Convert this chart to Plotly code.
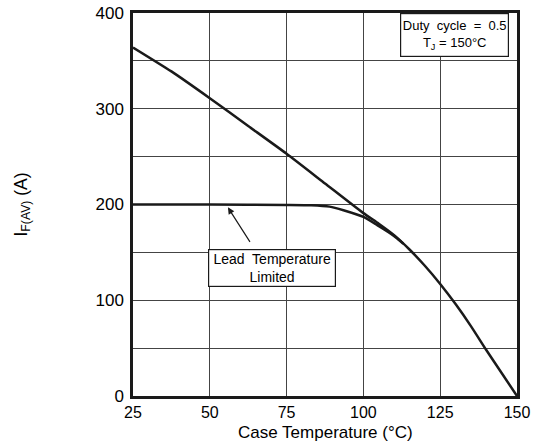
import plotly.graph_objects as go

# Upper curve (thermal limit)
temp_upper = [25, 37.5, 50, 62.5, 75, 87.5, 100, 105, 110, 115, 120, 125, 130, 135, 140, 145, 150]
amps_upper = [364, 339, 311, 282, 253, 222, 191, 180, 168, 153, 136, 117, 96, 73, 48, 24, 0]

# Lower curve (lead temperature limited)
temp_lower = [25, 50, 75, 83, 89, 93.5, 100, 104.5, 108.8, 111, 113]
amps_lower = [200, 200, 199.6, 199.3, 197.8, 194, 187, 178.5, 169.8, 164.5, 159]

x_ticks = [25, 50, 75, 100, 125, 150]
y_ticks = [0, 100, 200, 300, 400]
y_minor = [50, 150, 250, 350]

FONT = "Liberation Sans, Arial, sans-serif"
GRID = "#444444"
INK = "#1a1a1a"

fig = go.Figure()
fig.add_trace(go.Scatter(x=temp_upper, y=amps_upper, mode="lines",
                         line=dict(color=INK, width=2.5, shape="spline", smoothing=0.5),
                         showlegend=False, hoverinfo="skip"))
fig.add_trace(go.Scatter(x=temp_lower, y=amps_lower, mode="lines",
                         line=dict(color=INK, width=2.5, shape="spline", smoothing=0.5),
                         showlegend=False, hoverinfo="skip"))

fig.update_layout(
    width=534, height=444,
    margin=dict(l=133, r=17, t=13, b=48),
    paper_bgcolor="white", plot_bgcolor="white",
    font=dict(family=FONT, size=17, color="black"),
    xaxis=dict(range=[25, 150], tickvals=x_ticks, showgrid=True, gridcolor=GRID, gridwidth=1,
               showline=True, mirror=True, linecolor=INK, linewidth=2.5, zeroline=False,
               ticks="", tickfont=dict(size=16), automargin=False),
    yaxis=dict(range=[0, 400], tickvals=y_ticks, showgrid=True,
               gridcolor=GRID, gridwidth=1,
               minor=dict(tickvals=y_minor, showgrid=True, gridcolor=GRID, gridwidth=1, ticks=""),
               showline=True, mirror=True, linecolor=INK, linewidth=2.5, zeroline=False,
               ticks="", tickfont=dict(size=17), automargin=False, ticklabelstandoff=3),
    annotations=[
        dict(x=0.5, y=-0.096, xref="paper", yref="paper", showarrow=False,
             text="Case Temperature (°C)", font=dict(size=17, family=FONT),
             xanchor="center", yanchor="middle"),
        dict(x=-0.289, y=0.5, xref="paper", yref="paper", showarrow=False,
             text="I<sub>F(AV)</sub> (A)", font=dict(size=17.5, family=FONT), textangle=-90,
             xanchor="center", yanchor="middle"),
        dict(x=129.8, y=376.8, xref="x", yref="y", showarrow=False,
             text="Duty  cycle  =  0.5<br>T<sub>J</sub> = 150°C",
             font=dict(size=13, family=FONT), align="center", width=104, height=39,
             bgcolor="white", bordercolor=INK, borderwidth=1.2, borderpad=1.5),
        dict(x=70.3, y=133.2, xref="x", yref="y", showarrow=False,
             text="Lead  Temperature<br>Limited",
             font=dict(size=14, family=FONT), align="center", width=124, height=34,
             bgcolor="white", bordercolor=INK, borderwidth=1.2, borderpad=1),
        dict(x=55.9, y=197, xref="x", yref="y", text="", showarrow=True,
             ax=23, ay=36, arrowhead=2, arrowsize=1.1, arrowwidth=1.2, arrowcolor=INK),
    ],
)

fig.write_html("out.html", config={"displayModeBar": False},
               post_script="document.body.style.margin='0';document.body.style.overflow='hidden';")
